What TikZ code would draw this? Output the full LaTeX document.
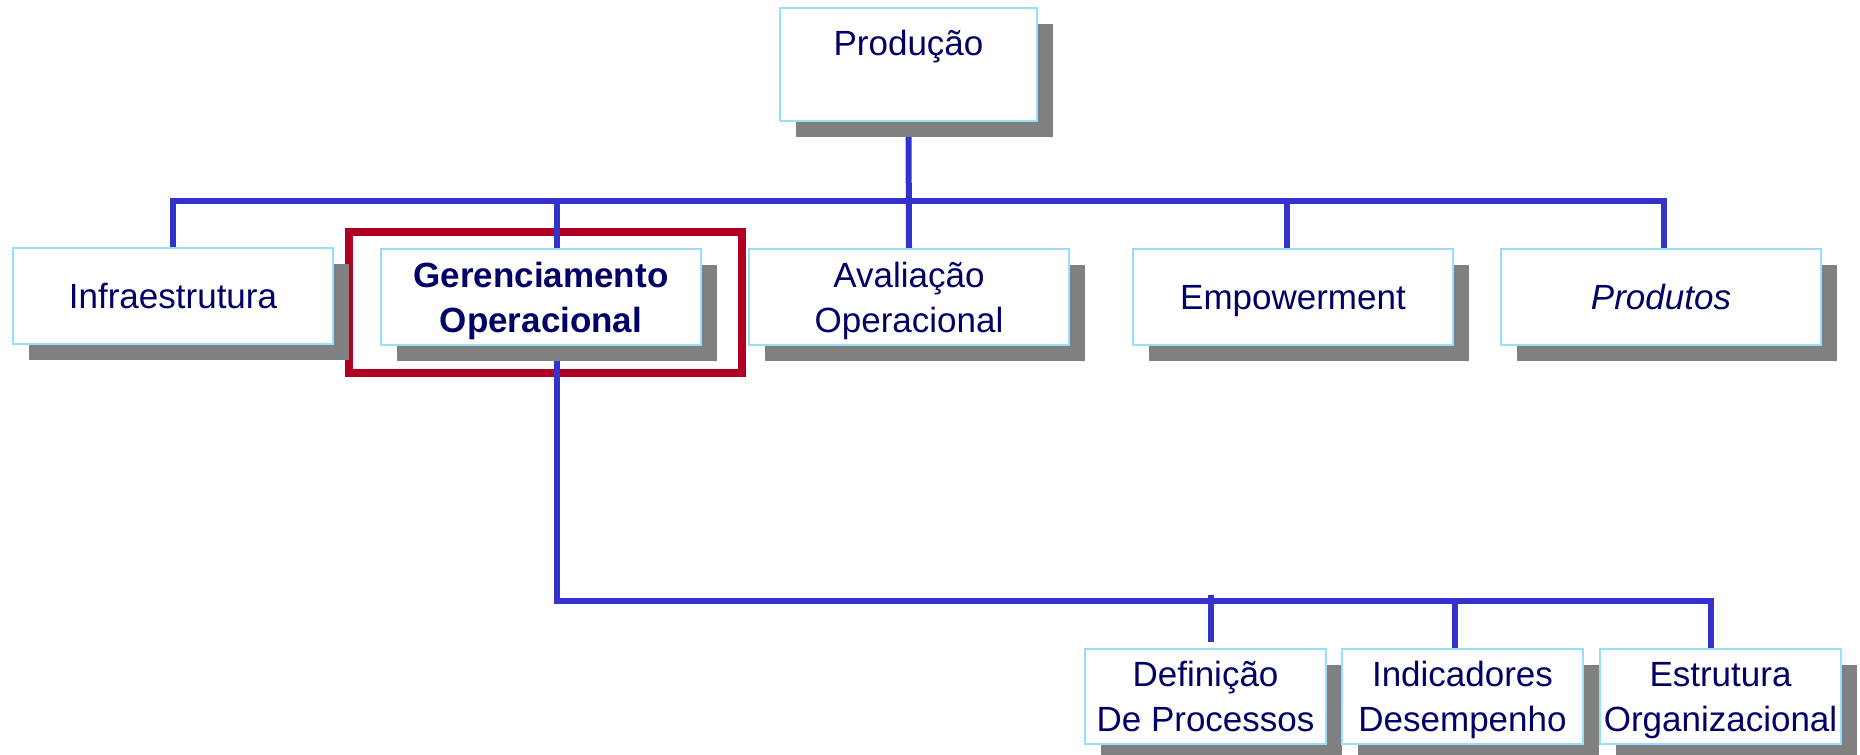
\documentclass[tikz,border=0pt]{standalone}
\usepackage{fontspec}
\setmainfont{Liberation Sans}
\usetikzlibrary{backgrounds,
                calc,
                positioning,
                shadows
                }
\definecolor{navy}{HTML}{000066}
\definecolor{boxline}{HTML}{99DDFF}
\definecolor{link}{HTML}{3333CC}
\definecolor{frame}{HTML}{B00024}
\definecolor{shade}{HTML}{808080}

\begin{document}
\begin{tikzpicture}[x=0.5pt, y=-0.5pt,
    OB/.style = {draw=boxline, line width=1pt, fill=white,
                 minimum width=160pt, minimum height=48pt,
                 inner xsep=0pt, inner ysep=0pt, align=center,
                 text depth=0pt,
                 text=navy, font=\fontsize{17.5}{22.5}\selectfont,
                 drop shadow={shadow xshift=8pt, shadow yshift=-8pt,
                              fill=shade, opacity=1}
                  },
    SB/.style = {OB, minimum width=120.5pt, minimum height=47.5pt},
    LK/.style = {draw=link, line width=3pt},
    FR/.style = {draw=frame, line width=4pt},
                        ]
\useasboundingbox (0,0) rectangle (1860,755);
% top
\node[OB, minimum width=128.5pt, text height=23.5pt, text depth=33pt]
        (prod)   at (908.5,64.5) {Produção};
% first level
\node[OB]                                                 (infra)  at (173,296)  {Infraestrutura};
\node[OB, font=\fontsize{17.5}{22.5}\selectfont\bfseries] (gerenc) at (541,297)  {Gerenciamento\\Operacional};
\node[OB]                                                 (aval)   at (909,297)  {Avaliação\\Operacional};
\node[OB]                                                 (emp)    at (1293,297) {Empowerment};
\node[OB, font=\fontsize{17.5}{22.5}\selectfont\itshape]  (prodt)  at (1661,297) {Produtos};
% second level
\node[SB]   (defi)  at (1205.5,696.5) {Definição\\De Processos};
\node[SB]   (indi)  at (1462.5,696.5) {Indicadores\\Desempenho};
\node[SB]   (estr)  at (1720.5,696.5) {Estrutura\\Organizacional};
%
\begin{scope}[on background layer]
\draw[FR]   ($(gerenc.north west)+(-31,-16)$) rectangle ($(gerenc.south east)+(40,27)$);
\coordinate (topbus) at (173,201);
\coordinate (lowbus) at (557,601);
\coordinate (pT) at ([xshift=1.5pt]prodt.north);
\coordinate (gT) at ([xshift=8pt]gerenc.north);
\coordinate (gB) at ([xshift=8pt]gerenc.south);
\coordinate (eT) at ([xshift=-3pt]emp.north);
\coordinate (dT) at ([xshift=2.75pt]defi.north);
\coordinate (iT) at ([xshift=-3.75pt]indi.north);
\coordinate (sT) at ([xshift=-4.75pt]estr.north);
\draw[LK]   (infra.north) -- (topbus) -| (pT);
\draw[LK]   (prod.south) -- (aval.north);
\draw[LK]   (gT) -- (gT |- topbus);
\draw[LK]   (eT) -- (eT |- topbus);
\draw[LK]   (gB) -- (lowbus) -| (sT);
\draw[LK]   (iT) -- (iT |- lowbus);
\draw[LK]   ($(dT |- lowbus)+(0,-6)$) -- ($(dT)+(0,-6)$);
\end{scope}
\end{tikzpicture}
\end{document}
